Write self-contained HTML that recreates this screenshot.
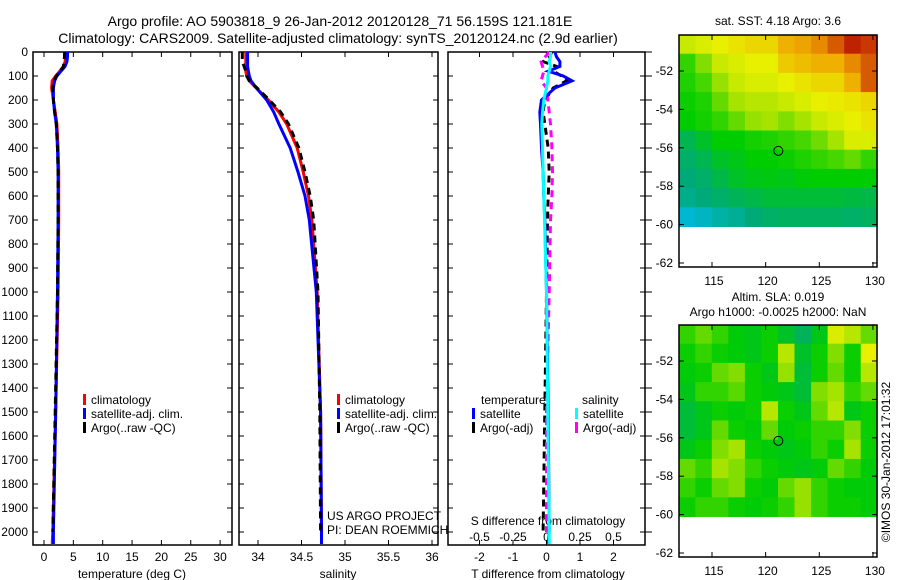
<!DOCTYPE html>
<html><head><meta charset="utf-8"><style>
body{margin:0;background:#fff;}
svg{display:block;font-family:"Liberation Sans",sans-serif;}
text{fill:#000;}
</style></head><body>
<svg id="c" width="900" height="580" viewBox="0 0 900 580" xmlns="http://www.w3.org/2000/svg">
<text x="340" y="26" font-size="14" text-anchor="middle">Argo profile: AO 5903818_9 26-Jan-2012 20120128_71 56.159S 121.181E</text>
<text x="338" y="43" font-size="14" text-anchor="middle">Climatology: CARS2009. Satellite-adjusted climatology: synTS_20120124.nc (2.9d earlier)</text>
<g id="g"></g>
</svg>
<script>
// ---- data ----
const depthTicks=[0,100,200,300,400,500,600,700,800,900,1000,1100,1200,1300,1400,1500,1600,1700,1800,1900,2000];
const tempTicks=[0,5,10,15,20,25,30];
const salTicks=[34,34.5,35,35.5,36];
const tdiffTicks=[-2,-1,0,1,2];
const sdiffTickLabels=["-0.5","-0.25","0","0.25","0.5"];
const sdiffTicks=[-0.5,-0.25,0,0.25,0.5];
const depths=[0,20,40,60,80,100,120,150,200,250,300,400,500,600,700,1000,1500,2000,2050];
const tempClim=[3.7,3.7,3.6,3.3,2.7,2.0,1.4,1.3,1.6,1.9,2.2,2.4,2.5,2.5,2.5,2.4,2.0,1.5,1.4];
const tempSat=[4.0,4.0,3.9,3.6,2.9,2.2,1.8,1.6,1.6,1.8,2.1,2.3,2.4,2.4,2.4,2.3,2.0,1.6,1.6];
const tempArgo=[3.5,3.5,3.4,3.3,2.8,2.1,1.7,1.5,1.6,1.8,2.1,2.3,2.4,2.4,2.4,2.3,1.9,1.5];
const salClim=[33.86,33.86,33.86,33.86,33.86,33.87,33.9,33.98,34.12,34.24,34.33,34.45,34.52,34.58,34.62,34.68,34.72,34.73,34.73];
const salSat=[33.88,33.88,33.88,33.88,33.89,33.9,33.92,33.98,34.1,34.18,34.24,34.37,34.46,34.54,34.59,34.67,34.72,34.73,34.73];
const salArgo=[33.82,33.82,33.82,33.84,33.86,33.87,33.9,33.99,34.13,34.26,34.35,34.47,34.54,34.6,34.64,34.69,34.71,34.72];
const dTsat=[0.25,0.3,0.4,0.4,0.05,0.5,0.76,0.25,-0.15,-0.2,-0.18,-0.15,-0.1,-0.08,-0.05,0.0,0.05,0.08,0.05];
const dTargo=[0.15,0.1,-0.1,0.3,0.2,0.45,0.6,0.2,-0.05,-0.1,-0.05,0.05,0.08,0.05,0.03,0.0,-0.05,-0.1];
const dSsat=[0.03,0.03,0.02,0.03,0.02,0.01,0.01,0.0,-0.02,-0.03,-0.035,-0.03,-0.025,-0.02,-0.015,0.0,0.01,0.02,0.02];
const dSargo=[0.02,-0.01,-0.04,-0.03,-0.02,-0.03,-0.04,0.0,0.01,0.02,0.03,0.04,0.045,0.04,0.03,0.02,0.0,0.0];
const lonTicks=[115,120,125,130];
const latTicks=[-52,-54,-56,-58,-60,-62];
const sstGrid=[
[0.66,0.68,0.7,0.72,0.74,0.74,0.8,0.82,0.86,0.92,0.97,0.95],
[0.5,0.58,0.66,0.68,0.7,0.7,0.76,0.78,0.8,0.8,0.86,0.92],
[0.48,0.52,0.6,0.66,0.68,0.68,0.7,0.72,0.74,0.74,0.8,0.92],
[0.46,0.48,0.55,0.62,0.64,0.64,0.66,0.68,0.7,0.71,0.72,0.74],
[0.45,0.47,0.5,0.55,0.6,0.62,0.58,0.62,0.66,0.68,0.7,0.72],
[0.35,0.4,0.45,0.45,0.47,0.48,0.5,0.52,0.56,0.62,0.68,0.68],
[0.32,0.35,0.4,0.42,0.45,0.45,0.46,0.48,0.5,0.52,0.55,0.5],
[0.3,0.32,0.36,0.4,0.42,0.43,0.42,0.44,0.45,0.45,0.45,0.45],
[0.28,0.3,0.32,0.34,0.36,0.38,0.38,0.38,0.38,0.38,0.37,0.36],
[0.2,0.22,0.25,0.27,0.3,0.32,0.33,0.33,0.33,0.33,0.32,0.33]];
const slaGrid=[
[0.5,0.55,0.5,0.44,0.42,0.46,0.4,0.34,0.42,0.68,0.64,0.55],
[0.46,0.5,0.46,0.44,0.42,0.46,0.64,0.4,0.46,0.58,0.46,0.7],
[0.44,0.46,0.55,0.58,0.46,0.42,0.6,0.38,0.46,0.55,0.46,0.64],
[0.42,0.5,0.5,0.54,0.46,0.44,0.42,0.38,0.58,0.62,0.5,0.55],
[0.38,0.42,0.46,0.44,0.46,0.64,0.46,0.42,0.55,0.64,0.42,0.46],
[0.38,0.42,0.55,0.46,0.44,0.55,0.44,0.46,0.5,0.5,0.58,0.46],
[0.42,0.46,0.58,0.62,0.46,0.44,0.42,0.44,0.5,0.46,0.62,0.46],
[0.55,0.5,0.62,0.58,0.5,0.46,0.44,0.42,0.44,0.55,0.5,0.44],
[0.5,0.46,0.55,0.58,0.46,0.44,0.55,0.6,0.5,0.46,0.44,0.44],
[0.46,0.5,0.5,0.46,0.44,0.46,0.5,0.6,0.5,0.46,0.46,0.44]];
const argoLon=121.181, argoLat=-56.159;

// ---- drawing ----
const NS="http://www.w3.org/2000/svg";
const G=document.getElementById('g');
function mk(tag,attrs,parent){const e=document.createElementNS(NS,tag);for(const k in attrs)e.setAttribute(k,attrs[k]);(parent||G).appendChild(e);return e;}
function txt(x,y,s,size,anchor,name){const t=mk('text',{x:x,y:y,'font-size':size,'text-anchor':anchor||'start'});t.textContent=s;


return t;}
const Y=d=>52+d*0.24;
const TOP=52,BOT=545;
function panel(x0,x1,name){const r=mk('rect',{x:x0,y:TOP,width:x1-x0,height:BOT-TOP,fill:'none',stroke:'#000','stroke-width':1.5});


depthTicks.forEach(d=>{mk('line',{x1:x0,x2:x0+5,y1:Y(d),y2:Y(d),stroke:'#000'});mk('line',{x1:x1,x2:x1-5,y1:Y(d),y2:Y(d),stroke:'#000'});});}
function xticks(xs,fx,x0,x1,labels,ly,name){xs.forEach((v,i)=>{const x=fx(v);mk('line',{x1:x,x2:x,y1:TOP,y2:TOP+5,stroke:'#000'});mk('line',{x1:x,x2:x,y1:BOT,y2:BOT-5,stroke:'#000'});if(labels)txt(x,ly,labels[i],12,'middle',name);});}
function line(xs,fx,col,dash,name){const pts=xs.map((v,i)=>fx(v).toFixed(1)+','+Y(depths[i]).toFixed(1)).join(' ');
const p=mk('polyline',{points:pts,fill:'none',stroke:col,'stroke-width':3});if(dash)p.setAttribute('stroke-dasharray',dash);

}
// panel 1
const fT=v=>44+v*5.87;
panel(33,232,'temperature-panel');
depthTicks.forEach(d=>txt(28,Y(d)+4,String(d),12,'end','depth-tick-label'));
xticks(tempTicks,fT,33,232,tempTicks.map(String),561,'temperature-tick-label');
line(tempClim,fT,'#f00',null,'temperature-climatology-line');
line(tempSat,fT,'#00f',null,'temperature-satellite-line');
line(tempArgo,fT,'#000','7,5','temperature-argo-line');
txt(132,578,'temperature (deg C)',12,'middle','temperature-axis-title');
function legend(x,y,col,label){const r=mk('rect',{x:x,y:y-10,width:3,height:11,fill:col});


txt(x+8,y,label,12,'start','legend-label');}
legend(83,404,'#f00','climatology');legend(83,418,'#00f','satellite-adj. clim.');legend(83,432,'#000','Argo(..raw -QC)');
// panel 2
const fS=v=>258+(v-34)*87;
panel(239,438,'salinity-panel');
xticks(salTicks,fS,239,438,salTicks.map(String),561,'salinity-tick-label');
line(salClim,fS,'#f00',null,'salinity-climatology-line');
line(salSat,fS,'#00f',null,'salinity-satellite-line');
line(salArgo,fS,'#000','7,5','salinity-argo-line');
txt(338,578,'salinity',12,'middle','salinity-axis-title');
legend(337,404,'#f00','climatology');legend(337,418,'#00f','satellite-adj. clim.');legend(337,432,'#000','Argo(..raw -QC)');
txt(327,520,'US ARGO PROJECT',12,'start','credit-project');
txt(327,534,'PI: DEAN ROEMMICH',12,'start','credit-pi');
// panel 3
const fdT=v=>546.5+v*33.5, fdS=v=>546.5+v*134;
panel(448,645,'difference-panel');
depthTicks.forEach(d=>mk('line',{x1:645,x2:652,y1:Y(d),y2:Y(d),stroke:'#000'}));
xticks(tdiffTicks,fdT,448,645,tdiffTicks.map(String),561,'tdiff-tick-label');
sdiffTicks.forEach((v,i)=>txt(fdS(v),541,sdiffTickLabels[i],12,'middle','sdiff-tick-label'));
txt(548,525,'S difference from climatology',12,'middle','sdiff-axis-title');
txt(548,578,'T difference from climatology',12,'middle','tdiff-axis-title');
line(dTargo,fdT,'#000','7,5','tdiff-argo-line');
line(dSargo,fdS,'#f0f','7,5','sdiff-argo-line');
line(dTsat,fdT,'#00f',null,'tdiff-satellite-line');
line(dSsat,fdS,'#0ff',null,'sdiff-satellite-line');
txt(481,404,'temperature',12,'start','legend-title-temperature');
txt(582,404,'salinity',12,'start','legend-title-salinity');
legend(472,418,'#00f','satellite');legend(472,432,'#000','Argo(-adj)');
legend(575,418,'#0ff','satellite');legend(575,432,'#f0f','Argo(-adj)');
// maps
const stops=[[0,[0,0,255]],[0.15,[0,190,255]],[0.3,[0,170,120]],[0.45,[0,205,0]],[0.6,[150,225,0]],[0.7,[232,240,0]],[0.8,[240,176,0]],[0.9,[224,112,0]],[1,[176,0,0]]];
function cmap(v){for(let i=1;i<stops.length;i++){if(v<=stops[i][0]){const a=stops[i-1],b=stops[i],t=(v-a[0])/(b[0]-a[0]);return 'rgb('+a[1].map((c,k)=>Math.round(c+(b[1][k]-c)*t)).join(',')+')';}}return 'rgb(176,0,0)';}
function map(oy,grid,name){
 const fx=lon=>712+(lon-115)*10.73, fy=lat=>oy+71+(-52-lat)*19.2;
 const nR=grid.length,nC=grid[0].length, lon0=111.9,lon1=130.4,dl=(lon1-lon0)/nC;
 grid.forEach((row,r)=>row.forEach((v,c)=>{const x=fx(lon0+c*dl),y=fy(-50.1-r);
  const cell=mk('rect',{x:x.toFixed(1),y:y.toFixed(1),width:(fx(lon0+(c+1)*dl)-x+0.5).toFixed(1),height:19.7,fill:cmap(v)});
  
  }));
 const b=mk('rect',{x:679,y:oy+35,width:198,height:232,fill:'none',stroke:'#000','stroke-width':1.5});
 
 
 latTicks.forEach(l=>{const y=fy(l);mk('line',{x1:679,x2:684,y1:y,y2:y,stroke:'#000'});mk('line',{x1:877,x2:872,y1:y,y2:y,stroke:'#000'});txt(673,y+4,String(l),12,'end','latitude-tick-label');});
 lonTicks.forEach(l=>{const x=fx(l);mk('line',{x1:x,x2:x,y1:oy+35,y2:oy+40,stroke:'#000'});mk('line',{x1:x,x2:x,y1:oy+267,y2:oy+262,stroke:'#000'});txt(x+2,oy+285,String(l),12,'middle','longitude-tick-label');});
 const m=mk('circle',{cx:fx(argoLon),cy:fy(argoLat),r:4.5,fill:'none',stroke:'#000','stroke-width':1});
 
 
}
map(0,sstGrid,'sst-map');
txt(778,25,'sat. SST: 4.18 Argo: 3.6',12,'middle','sst-map-title');
map(290,slaGrid,'sla-map');
txt(778,301,'Altim. SLA: 0.019',12,'middle','sla-map-title');
txt(778,316,'Argo h1000: -0.0025 h2000: NaN',12,'middle','sla-map-subtitle');
const cr=txt(0,0,'©IMOS 30-Jan-2012 17:01:32',12,'middle','imos-timestamp');
cr.setAttribute('transform','translate(890,462) rotate(-90)');
</script>
</body></html>
